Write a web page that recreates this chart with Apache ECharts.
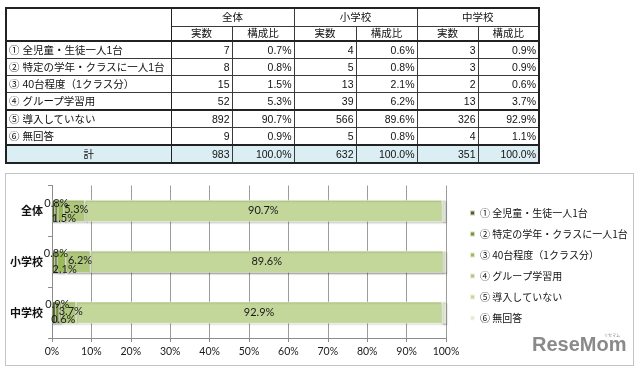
<!DOCTYPE html>
<html><head><meta charset="utf-8">
<script src="https://cdn.jsdelivr.net/npm/echarts@6/dist/echarts.min.js"></script>
<style>
html,body{margin:0;padding:0;background:#fff;width:640px;height:369px;overflow:hidden;}
#chart{position:absolute;left:0;top:0;width:640px;height:369px;}
#box{position:absolute;left:5px;top:173px;width:627px;height:191px;border:1px solid #c4c4c4;pointer-events:none;}
#tbl{position:absolute;left:5px;top:7px;border-collapse:collapse;font-family:'Liberation Sans','Noto Sans CJK JP',sans-serif;font-size:10.5px;color:#111;table-layout:fixed;width:533px;}
#tbl td{padding:0 2px;height:16px;line-height:15px;border:1px solid #3a3a3a;white-space:nowrap;overflow:hidden;}
#tbl td.num{text-align:right;}
#tbl td.c{text-align:center;}
#tbl tr.h1 td{height:17px;}
#tbl tr.h2 td{height:13px;line-height:13px;}
#tbl tr.thick td{border-top:2px solid #222;}
#tbl tr.total td{background:#dbeef3;}
</style>
</head><body>
<div id="chart"></div>
<div id="box"></div>
<table id="tbl"></table>
<script>
// ---- data ----
const groups = ['全体', '小学校', '中学校'];
const subHeaders = ['実数', '構成比'];
const items = ['① 全児童・生徒一人1台', '② 特定の学年・クラスに一人1台', '③ 40台程度（1クラス分）', '④ グループ学習用', '⑤ 導入していない', '⑥ 無回答'];
const countsAll = [7, 8, 15, 52, 892, 9];
const countsElem = [4, 5, 13, 39, 566, 5];
const countsJunior = [3, 3, 2, 13, 326, 4];
const pctAll = [0.7, 0.8, 1.5, 5.3, 90.7, 0.9];
const pctElem = [0.6, 0.8, 2.1, 6.2, 89.6, 0.8];
const pctJunior = [0.9, 0.9, 0.6, 3.7, 92.9, 1.1];
const totalLabel = '計';
const totalCounts = [983, 632, 351];
const totalPcts = [100.0, 100.0, 100.0];
const xTicks = [0, 10, 20, 30, 40, 50, 60, 70, 80, 90, 100];

// ---- table ----
const tbl = document.getElementById('tbl');
const colW = [165, 61, 62, 62, 61, 61, 61];
let html = '<colgroup>' + colW.map(w => '<col style="width:' + w + 'px">').join('') + '</colgroup>';
html += '<tr class="h1"><td rowspan="2" style="border-right:1.5px solid #222"></td>' +
  groups.map((g, i) => '<td colspan="2" class="c"' + (i > 0 ? ' style="border-left:1.5px solid #888"' : '') + '>' + g + '</td>').join('') + '</tr>';
html += '<tr class="h2">' + groups.map((g, i) => subHeaders.map((s, j) => '<td class="c"' + (i > 0 && j === 0 ? ' style="border-left:1.5px solid #888"' : '') + '>' + s + '</td>').join('')).join('') + '</tr>';
const cnts = [countsAll, countsElem, countsJunior];
const pcts = [pctAll, pctElem, pctJunior];
items.forEach((it, r) => {
  const cls = (r === 0 || r === 4) ? ' class="thick"' : '';
  html += '<tr' + cls + '><td style="border-right:1.5px solid #222">' + it + '</td>' +
    groups.map((g, i) => '<td class="num"' + (i > 0 ? ' style="border-left:1.5px solid #888"' : '') + '>' + cnts[i][r] + '</td><td class="num">' + pcts[i][r].toFixed(1) + '%</td>').join('') + '</tr>';
});
html += '<tr class="total thick"><td class="c" style="border-right:1.5px solid #222">' + totalLabel + '</td>' +
  groups.map((g, i) => '<td class="num"' + (i > 0 ? ' style="border-left:1.5px solid #888"' : '') + '>' + totalCounts[i] + '</td><td class="num">' + totalPcts[i].toFixed(1) + '%</td>').join('') + '</tr>';
tbl.innerHTML = html;
tbl.style.border = '2px solid #222';

// ---- chart ----
const palette = ['#4f6228', '#77933c', '#9bbb59', '#afc77c', '#c4d79b', '#e2ebd0'];
const chart = echarts.init(document.getElementById('chart'));
const labelBase = {
  show: true, color: '#1a1a1a', fontSize: 11, fontFamily: 'Lato, Liberation Sans, sans-serif',
  formatter: p => p.value.toFixed(1) + '%'
};
const labelCfg = [
  { show: false },
  Object.assign({}, labelBase, { position: ['50%', '14%'], align: 'center', verticalAlign: 'middle' }),
  Object.assign({}, labelBase, { position: ['50%', '83%'], align: 'center', verticalAlign: 'middle', offset: [3, 0] }),
  Object.assign({}, labelBase, { position: 'inside', offset: [2, -1] }),
  Object.assign({}, labelBase, { position: 'inside' }),
  { show: false }
];
const series = items.map((name, i) => ({
  name: name,
  type: 'bar',
  stack: 'total',
  barWidth: 22,
  data: [pctAll[i], pctElem[i], pctJunior[i]],
  itemStyle: { color: palette[i], borderColor: 'rgba(255,255,255,0.7)', borderWidth: 0.6,
    shadowColor: 'rgba(0,0,0,0.35)', shadowBlur: 1.5, shadowOffsetY: 1.2, shadowOffsetX: 0.6 },
  label: labelCfg[i],
  emphasis: { disabled: true },
  animation: false
}));
chart.setOption({
  animation: false,
  backgroundColor: '#fff',
  grid: { left: 52, right: 194, top: 185.5, bottom: 31 },
  xAxis: {
    type: 'value', min: 0, max: 100, interval: 10,
    axisLine: { show: true, lineStyle: { color: '#8c8c8c', width: 1 } },
    axisTick: { show: true, length: 4, lineStyle: { color: '#8c8c8c' } },
    splitLine: { show: true, lineStyle: { color: '#9c9c9c', width: 1 } },
    axisLabel: { formatter: v => xTicks.includes(v) ? v + '%' : '', color: '#1a1a1a', fontSize: 10.5,
      fontFamily: 'Lato, Liberation Sans, sans-serif', margin: 8 }
  },
  yAxis: {
    type: 'category', data: groups, inverse: true,
    axisLine: { show: true, lineStyle: { color: '#8c8c8c' } },
    axisTick: { show: true, length: 4, lineStyle: { color: '#8c8c8c' } },
    axisLabel: { color: '#111', fontSize: 11, fontWeight: 'bold', fontFamily: 'Noto Sans CJK JP', margin: 9 }
  },
  legend: {
    orient: 'vertical', left: 464, top: 202, itemWidth: 5, itemHeight: 5, itemGap: 9,
    icon: 'rect',
    data: items,
    textStyle: { color: '#111', fontSize: 10, fontFamily: 'Noto Sans CJK JP', lineHeight: 12 },
    selectedMode: false
  },
  series: series,
  graphic: [
    { type: 'text', left: 532, top: 335, style: { text: 'ReseMom', fontSize: 20, fontWeight: 'bold',
      fontFamily: 'Liberation Sans', fill: '#8a8a8a' } },
    { type: 'text', left: 604, top: 333, style: { text: 'リセマム', fontSize: 4, fontFamily: 'Noto Sans CJK JP', fill: '#8a8a8a' } }
  ]
});
</script>
</body></html>
